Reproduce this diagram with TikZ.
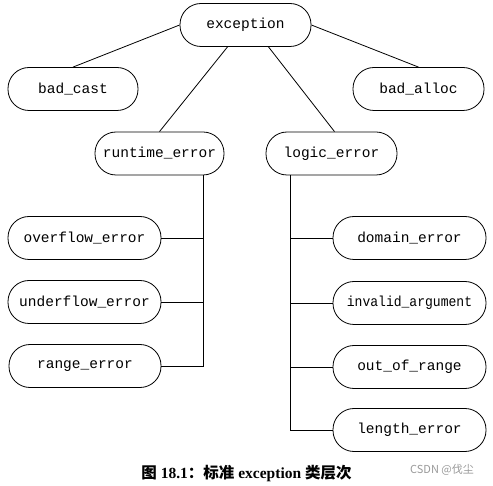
\documentclass[tikz,border=0pt]{standalone}
\usepackage{fontspec}
\setmainfont{Liberation Serif}
\setmonofont{Liberation Mono}
\newfontfamily\cjk{Noto Sans CJK SC}
\newfontfamily\cjkb{Noto Sans CJK SC Bold}
\begin{document}
\begin{tikzpicture}[x=1pt,y=-1pt,
  cls/.style={draw, line width=0.8pt, rounded corners=21pt, minimum height=43pt,
    inner sep=0pt, font=\fontsize{14.5}{16}\ttfamily},
  link/.style={line width=0.8pt}]
\useasboundingbox (0,0) rectangle (493,486);
\node[cls, minimum width=131pt] (exc) at (245.5,25) {exception};
\node[cls, minimum width=130pt] (bc) at (73,89) {bad\_cast};
\node[cls, minimum width=131pt] (ba) at (418.5,89) {bad\_alloc};
\node[cls, minimum width=129pt] (rt) at (159.5,153.5) {runtime\_error};
\node[cls, minimum width=131pt] (le) at (331.5,153.5) {logic\_error};
\node[cls, minimum width=153pt] (ov) at (84.5,238) {overflow\_error};
\node[cls, minimum width=153pt] (un) at (84.5,302) {underflow\_error};
\node[cls, minimum width=152pt] (ra) at (85,366) {range\_error};
\node[cls, minimum width=153pt] (dm) at (409.5,238) {domain\_error};
\node[cls, minimum width=153pt] (ia) at (409.5,303) {\scalebox{0.9}[1]{invalid\_argument}};
\node[cls, minimum width=153pt] (oo) at (409.5,367) {out\_of\_range};
\node[cls, minimum width=153pt] (lg) at (409.5,430) {length\_error};
\draw[link] (exc.west) -- (bc.north);
\draw[link] (exc.east) -- (ba.north);
\draw[link] ([xshift=-18pt]exc.south) -- (rt.north);
\draw[link] ([xshift=23pt]exc.south) -- ([xshift=3pt]le.north);
\coordinate (rtb) at ([xshift=43.5pt]rt.south);
\draw[link] (rtb) |- (ra.east);
\draw[link] (ov.east) -- (ov.east -| rtb);
\draw[link] (un.east) -- (un.east -| rtb);
\coordinate (leb) at ([xshift=-41.5pt]le.south);
\draw[link] (leb) |- (lg.west);
\draw[link] (dm.west) -- (dm.west -| leb);
\draw[link] (ia.west) -- (ia.west -| leb);
\draw[link] (oo.west) -- (oo.west -| leb);
\node[font=\fontsize{15.5}{17}\selectfont\bfseries] (cap) at (246.5,474)
  {{\cjkb 图} 18.1{\cjkb ：标准} exception {\cjkb 类层次}};
\node[font=\fontsize{11}{13}\cjk, text=black!40] (wm) at (442,470) {CSDN @伐尘};
\end{tikzpicture}
\end{document}
